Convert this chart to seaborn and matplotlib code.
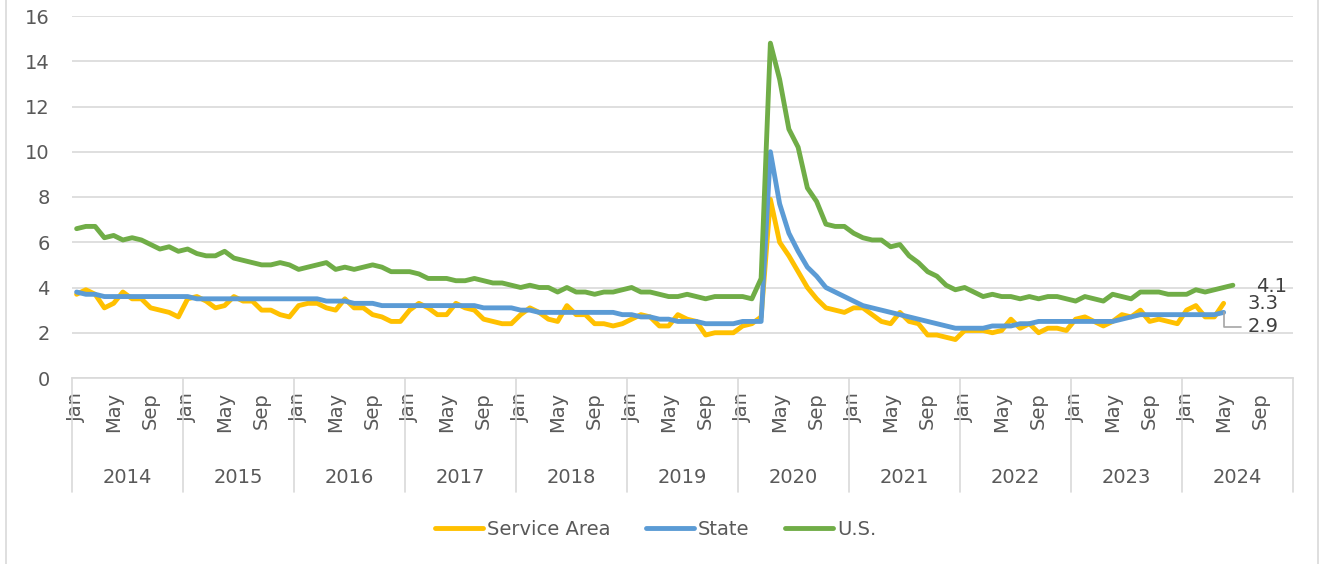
import pandas as pd
import seaborn as sns
import matplotlib.pyplot as plt
import matplotlib.transforms as mtransforms
from matplotlib.lines import Line2D

# monthly unemployment rate, Jan 2014 onwards
years = list(range(2014, 2025))
month_labels = ['Jan', 'May', 'Sep']

service_area = [
    3.7, 3.9, 3.7, 3.1, 3.3, 3.8, 3.5, 3.5, 3.1, 3.0, 2.9, 2.7,
    3.5, 3.6, 3.4, 3.1, 3.2, 3.6, 3.4, 3.4, 3.0, 3.0, 2.8, 2.7,
    3.2, 3.3, 3.3, 3.1, 3.0, 3.5, 3.1, 3.1, 2.8, 2.7, 2.5, 2.5,
    3.0, 3.3, 3.1, 2.8, 2.8, 3.3, 3.1, 3.0, 2.6, 2.5, 2.4, 2.4,
    2.8, 3.1, 2.9, 2.6, 2.5, 3.2, 2.8, 2.8, 2.4, 2.4, 2.3, 2.4,
    2.6, 2.8, 2.7, 2.3, 2.3, 2.8, 2.6, 2.5, 1.9, 2.0, 2.0, 2.0,
    2.3, 2.4, 2.7, 7.9, 6.0, 5.4, 4.7, 4.0, 3.5, 3.1, 3.0, 2.9,
    3.1, 3.1, 2.8, 2.5, 2.4, 2.9, 2.5, 2.4, 1.9, 1.9, 1.8, 1.7,
    2.1, 2.1, 2.1, 2.0, 2.1, 2.6, 2.2, 2.4, 2.0, 2.2, 2.2, 2.1,
    2.6, 2.7, 2.5, 2.3, 2.5, 2.8, 2.7, 3.0, 2.5, 2.6, 2.5, 2.4,
    3.0, 3.2, 2.7, 2.7, 3.3,
]
state = [
    3.8, 3.7, 3.7, 3.6, 3.6, 3.6, 3.6, 3.6, 3.6, 3.6, 3.6, 3.6,
    3.6, 3.5, 3.5, 3.5, 3.5, 3.5, 3.5, 3.5, 3.5, 3.5, 3.5, 3.5,
    3.5, 3.5, 3.5, 3.4, 3.4, 3.4, 3.3, 3.3, 3.3, 3.2, 3.2, 3.2,
    3.2, 3.2, 3.2, 3.2, 3.2, 3.2, 3.2, 3.2, 3.1, 3.1, 3.1, 3.1,
    3.0, 3.0, 2.9, 2.9, 2.9, 2.9, 2.9, 2.9, 2.9, 2.9, 2.9, 2.8,
    2.8, 2.7, 2.7, 2.6, 2.6, 2.5, 2.5, 2.5, 2.4, 2.4, 2.4, 2.4,
    2.5, 2.5, 2.5, 10.0, 7.7, 6.4, 5.6, 4.9, 4.5, 4.0, 3.8, 3.6,
    3.4, 3.2, 3.1, 3.0, 2.9, 2.8, 2.7, 2.6, 2.5, 2.4, 2.3, 2.2,
    2.2, 2.2, 2.2, 2.3, 2.3, 2.3, 2.4, 2.4, 2.5, 2.5, 2.5, 2.5,
    2.5, 2.5, 2.5, 2.5, 2.5, 2.6, 2.7, 2.8, 2.8, 2.8, 2.8, 2.8,
    2.8, 2.8, 2.8, 2.8, 2.9,
]
us = [
    6.6, 6.7, 6.7, 6.2, 6.3, 6.1, 6.2, 6.1, 5.9, 5.7, 5.8, 5.6,
    5.7, 5.5, 5.4, 5.4, 5.6, 5.3, 5.2, 5.1, 5.0, 5.0, 5.1, 5.0,
    4.8, 4.9, 5.0, 5.1, 4.8, 4.9, 4.8, 4.9, 5.0, 4.9, 4.7, 4.7,
    4.7, 4.6, 4.4, 4.4, 4.4, 4.3, 4.3, 4.4, 4.3, 4.2, 4.2, 4.1,
    4.0, 4.1, 4.0, 4.0, 3.8, 4.0, 3.8, 3.8, 3.7, 3.8, 3.8, 3.9,
    4.0, 3.8, 3.8, 3.7, 3.6, 3.6, 3.7, 3.6, 3.5, 3.6, 3.6, 3.6,
    3.6, 3.5, 4.4, 14.8, 13.2, 11.0, 10.2, 8.4, 7.8, 6.8, 6.7, 6.7,
    6.4, 6.2, 6.1, 6.1, 5.8, 5.9, 5.4, 5.1, 4.7, 4.5, 4.1, 3.9,
    4.0, 3.8, 3.6, 3.7, 3.6, 3.6, 3.5, 3.6, 3.5, 3.6, 3.6, 3.5,
    3.4, 3.6, 3.5, 3.4, 3.7, 3.6, 3.5, 3.8, 3.8, 3.8, 3.7, 3.7,
    3.7, 3.9, 3.8, 3.9, 4.0, 4.1,
]

series_names = ['Service Area', 'State', 'U.S.']
colors = ['#FFC000', '#5B9BD5', '#70AD47']

# long format for seaborn
rows = []
for name, vals in zip(series_names, [service_area, state, us]):
    for i, v in enumerate(vals):
        rows.append((name, i, v))
df = pd.DataFrame(rows, columns=['series', 'month', 'rate'])

sns.set_style('white')
plt.rcParams['font.family'] = ['DejaVu Sans']
text_color = '#595959'
grid_color = '#D9D9D9'
fs = 14

fig = plt.figure(figsize=(13.24, 5.64), dpi=100)
ax = fig.add_axes([72 / 1324, 1 - 378 / 564, (1293 - 72) / 1324, (378 - 16) / 564])

sns.lineplot(data=df, x='month', y='rate', hue='series',
             palette=dict(zip(series_names, colors)), linewidth=3.5,
             solid_capstyle='round', solid_joinstyle='round', ax=ax)

n_months = 12 * len(years)
ax.set_xlim(-0.5, n_months - 0.5)
ax.set_ylim(0, 16)
ax.set_yticks(range(0, 17, 2))
ax.grid(axis='y', color=grid_color, linewidth=1.2)
ax.grid(axis='x', visible=False)
ax.set_axisbelow(True)
for s in ['top', 'right', 'left']:
    ax.spines[s].set_visible(False)
ax.spines['bottom'].set_color(grid_color)
ax.spines['bottom'].set_linewidth(1.2)

ticks = [12 * k + m for k in range(len(years)) for m in (0, 4, 8)]
ax.set_xticks(ticks)
ax.set_xticklabels(month_labels * len(years), rotation=90)
ax.tick_params(axis='x', length=0, pad=10, labelsize=fs, labelcolor=text_color)
ax.tick_params(axis='y', length=0, pad=16, labelsize=fs, labelcolor=text_color)
ax.set_xlabel('')
ax.set_ylabel('')

# year groups under the month labels
trans = mtransforms.blended_transform_factory(ax.transData, ax.transAxes)
for k, yr in enumerate(years):
    ax.text(12 * k + 5.5, -0.276, str(yr), transform=trans, ha='center',
            va='center', fontsize=fs, color=text_color)
for k in range(len(years) + 1):
    ax.plot([12 * k - 0.5] * 2, [0, -0.315], transform=trans,
            color=grid_color, lw=1.2, clip_on=False)

# end-of-series labels
ax.annotate(f'{us[-1]:.1f}', xy=(len(us) - 1, us[-1]), xytext=(17, -1),
            textcoords='offset points', ha='left', va='center',
            fontsize=fs, color='#404040')
ax.annotate(f'{service_area[-1]:.1f}', xy=(len(service_area) - 1, service_area[-1]),
            xytext=(17, 0), textcoords='offset points', ha='left', va='center',
            fontsize=fs, color='#404040')
ax.annotate(f'{state[-1]:.1f}', xy=(len(state) - 1, state[-1]),
            xytext=(17, -10.5), textcoords='offset points', ha='left', va='center',
            fontsize=fs, color='#404040',
            arrowprops=dict(arrowstyle='-', color='#A6A6A6', lw=1.2,
                            connectionstyle='angle,angleA=0,angleB=90,rad=0',
                            shrinkA=2, shrinkB=0))

handles = [Line2D([], [], color=c, lw=3.5, solid_capstyle='round') for c in colors]
ax.legend(handles, series_names, loc='center', bbox_to_anchor=(0.495, 0.062),
          bbox_transform=fig.transFigure, ncol=3, frameon=False, fontsize=fs,
          handlelength=2.5, handletextpad=0.2, columnspacing=1.8,
          labelcolor=text_color)

# chart border
for xb in (6 / 1324, 1318 / 1324):
    fig.add_artist(Line2D([xb, xb], [0, 1], color=grid_color, lw=1.2,
                          transform=fig.transFigure))

fig.savefig('out.png', dpi=100)
